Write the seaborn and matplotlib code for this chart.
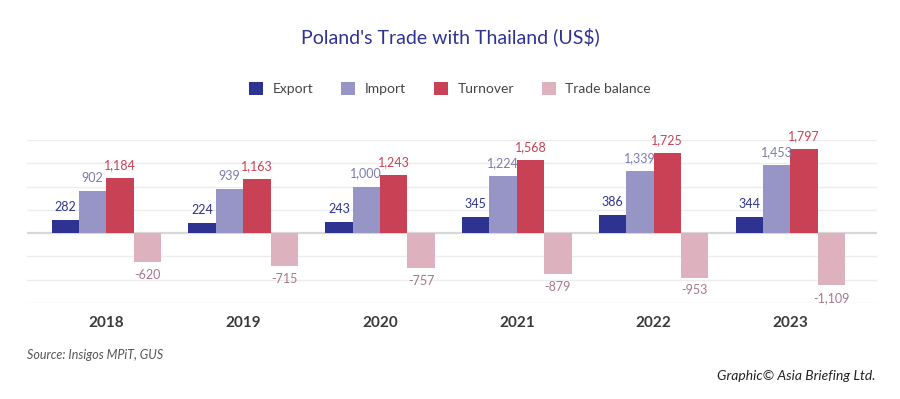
import matplotlib
matplotlib.use("Agg")
import matplotlib.pyplot as plt
import seaborn as sns
import pandas as pd
from matplotlib.patches import Patch

years = ["2018", "2019", "2020", "2021", "2022", "2023"]
series = ["Export", "Import", "Turnover", "Trade balance"]
export_vals = [282, 224, 243, 345, 386, 344]
import_vals = [902, 939, 1000, 1224, 1339, 1453]
turnover_vals = [1184, 1163, 1243, 1568, 1725, 1797]
balance_vals = [-620, -715, -757, -879, -953, -1109]

bar_colors = ["#2E3391", "#9795C6", "#C94155", "#DDB1BE"]
label_colors = ["#2E3391", "#7C7AAE", "#C94155", "#A87888"]

sns.set_theme(style="white")
plt.rcParams["font.family"] = ["Lato", "DejaVu Sans"]

rows = []
for vals, s in zip([export_vals, import_vals, turnover_vals, balance_vals], series):
    for y, v in zip(years, vals):
        rows.append({"Year": y, "Series": s, "Value": v})
df = pd.DataFrame(rows)

fig = plt.figure(figsize=(9, 3.99), dpi=100)
ax = fig.add_axes([0.03, 0.2406, 0.944, 0.4085])

sns.barplot(data=df, x="Year", y="Value", hue="Series", order=years,
            hue_order=series, palette=bar_colors, width=0.8, ax=ax,
            legend=False, errorbar=None, saturation=1, edgecolor="none")

ax.set_ylim(-1500, 2000)
ax.set_xlim(-0.58, 5.63)
ax.set_yticks(range(-1500, 2001, 500))
for yv in range(-1500, 2001, 500):
    ax.axhline(yv, color="#D8D8D8" if yv == 0 else "#EDEDED",
               lw=1.6 if yv == 0 else 1.0, zorder=0)
ax.set_yticklabels([])
ax.tick_params(axis="y", length=0)
ax.tick_params(axis="x", length=0, pad=9)
for lbl in ax.get_xticklabels():
    lbl.set_fontweight("bold")
    lbl.set_fontsize(11)
    lbl.set_color("#3A3A3A")
ax.set_xlabel("")
ax.set_ylabel("")
for sp in ax.spines.values():
    sp.set_visible(False)

for cont, lc in zip(ax.containers, label_colors):
    labels = [f"{v:,.0f}" for v in cont.datavalues]
    ax.bar_label(cont, labels=labels, padding=5, color=lc, fontsize=9)

fig.text(0.5, 0.907, "Poland's Trade with Thailand (US$)", ha="center", va="center",
         fontsize=14, color="#2E3391")

handles = [Patch(facecolor=c, edgecolor="none") for c in bar_colors]
fig.legend(handles, series, loc="center", bbox_to_anchor=(0.5, 0.778), ncol=4,
           frameon=False, fontsize=10, handlelength=1.0, handleheight=1.0,
           handletextpad=0.7, columnspacing=2.0, labelcolor="#444444")

fig.text(0.03, 0.11, "Source: Insigos MPiT, GUS", ha="left", va="center",
         fontsize=9, style="italic", color="#555555")
fig.text(0.973, 0.058, "Graphic\u00a9 Asia Briefing Ltd.", ha="right", va="center",
         fontsize=10, style="italic", color="#222222")

fig.savefig("out.png", dpi=100, facecolor="white")
